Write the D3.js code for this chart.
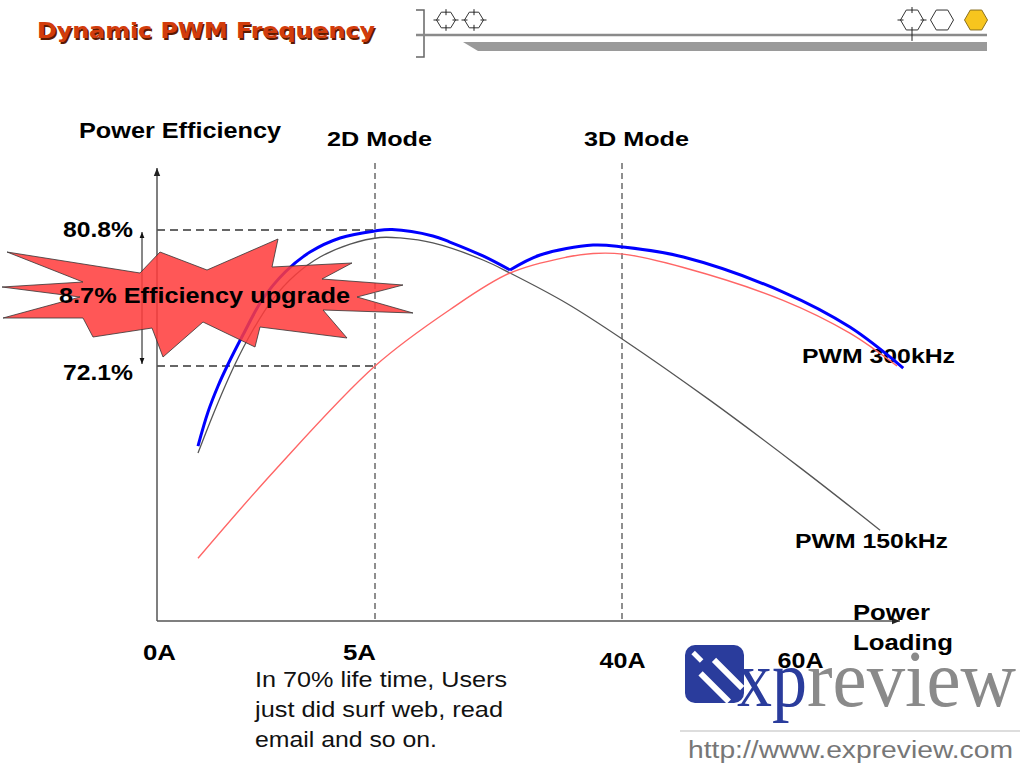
<!DOCTYPE html>
<html lang="en">
<head>
<meta charset="utf-8">
<style>
html, body {
    margin: 0;
    padding: 0;
    background: #fff;
}
svg { display: block; }
.b { font-family: "Liberation Sans", Arial, sans-serif; font-weight: bold; fill: #000; }
.r { font-family: "Liberation Sans", Arial, sans-serif; fill: #111; }
</style>
</head>
<body>
<div id="stage"></div>

<script src="https://cdn.jsdelivr.net/npm/d3@7/dist/d3.min.js"></script>
<script>

// x ticks (power loading, A) - the axis is not linear, one segment per tick gap
var loadTicks = [0, 5, 40, 60];
var loadLabels = ["0A", "5A", "40A", "60A"];

// marked efficiency levels
var effMarks = [80.8, 72.1];
var effLabels = ["80.8%", "72.1%"];

// mode lines
var modeLoads = [5, 40];
var modeLabels = ["2D Mode", "3D Mode"];

// series: [load A, efficiency %]
var pwm150 = [[0.94, 66.53], [1.33, 69.29], [1.77, 72.1], [2.2, 74.4], [2.64, 76.32], [3.17, 77.92],
    [3.74, 79.07], [4.43, 79.9], [5.71, 80.32], [8.54, 80.29], [13.2, 79.97], [20.3, 78.88],
    [24.13, 78.05], [32.2, 76.1], [40.1, 73.8], [49.9, 69.9], [60, 65.6], [69, 61.6]];
var pwm300 = [[0.94, 59.8], [2.71, 65.45], [5, 72.1], [15.6, 75.7], [24.13, 78.05], [32.2, 79.07],
    [35.9, 79.3], [40.1, 79.26], [46.9, 78.4], [58.1, 76.3], [65.6, 74.2], [70.9, 72.1]];
var dynamicPwm = [[0.94, 66.98], [1.17, 69.16], [1.4, 70.82], [1.61, 72.1], [1.97, 74.08], [2.41, 76.32],
    [2.94, 78.11], [3.51, 79.39], [4.2, 80.29], [5, 80.74], [7.41, 80.83], [13.2, 80.42], [15.6, 80.03],
    [20.3, 79.14], [24.13, 78.24], [28.4, 79.2], [35.9, 79.84], [40.1, 79.71], [46.9, 79.07],
    [58.1, 76.83], [65.6, 74.59], [71.6, 71.97]];

var svg = d3.select("#stage").append("svg")
    .attr("width", 1020)
    .attr("height", 765);

var x = d3.scaleLinear()
    .domain(loadTicks)
    .range([157, 375, 622, 800]);

var y = d3.scaleLinear()
    .domain([effMarks[1], effMarks[0]])
    .range([366, 230]);

var axisY = 621, axisTop = 168, axisRight = 900;

function fit(t, w) {
    return t.attr("textLength", w).attr("lengthAdjust", "spacingAndGlyphs");
}

var defs = svg.append("defs");
defs.append("marker")
    .attr("id", "arr")
    .attr("viewBox", "0 0 10 10")
    .attr("refX", 10).attr("refY", 5)
    .attr("markerWidth", 9).attr("markerHeight", 8)
    .attr("markerUnits", "userSpaceOnUse")
    .attr("orient", "auto-start-reverse")
    .append("path")
    .attr("d", "M0,1L10,5L0,9Z")
    .attr("fill", "#222");
defs.append("marker")
    .attr("id", "arrs")
    .attr("viewBox", "0 0 10 10")
    .attr("refX", 10).attr("refY", 5)
    .attr("markerWidth", 7).attr("markerHeight", 6)
    .attr("markerUnits", "userSpaceOnUse")
    .attr("orient", "auto-start-reverse")
    .append("path")
    .attr("d", "M0,1L10,5L0,9Z")
    .attr("fill", "#111");

// ---- header ----
var title = svg.append("g");
title.append("text")
    .attr("x", 38.5).attr("y", 39.5)
    .attr("font-family", "DejaVu Sans, Verdana, sans-serif")
    .attr("font-weight", "bold").attr("font-size", 21)
    .attr("fill", "#5c1a02")
    .call(fit, 338)
    .text("Dynamic PWM Frequency");
title.append("text")
    .attr("x", 37).attr("y", 38)
    .attr("font-family", "DejaVu Sans, Verdana, sans-serif")
    .attr("font-weight", "bold").attr("font-size", 21)
    .attr("fill", "#d23c0c")
    .call(fit, 338)
    .text("Dynamic PWM Frequency");

var deco = svg.append("g");
deco.append("path")
    .attr("d", "M416,10H424V57H416")
    .attr("fill", "none").attr("stroke", "#666").attr("stroke-width", 1.5);
deco.append("line")
    .attr("x1", 416).attr("x2", 987).attr("y1", 35).attr("y2", 35)
    .attr("stroke", "#8a8a8a").attr("stroke-width", 2.5);
deco.append("path")
    .attr("d", "M463,42H987V51H478Z")
    .attr("fill", "#9a9a9a");

function hexPath(cx, cy, r, k) {
    var pts = d3.range(6).map(function (i) {
        var a = i * Math.PI / 3;
        return [cx + r * Math.cos(a), cy + r * Math.sin(a) * k];
    });
    return "M" + pts.join("L") + "Z";
}
var hexes = [
    {cx: 446, cross: true, down: 3, fill: "#fff"},
    {cx: 474, cross: true, down: 3, fill: "#fff"},
    {cx: 912, cross: true, down: 11, fill: "#fff"},
    {cx: 942, cross: false, down: 0, fill: "#fff"},
    {cx: 976, cross: false, down: 0, fill: "#f7c51e"}
];
hexes.forEach(function (h) {
    var big = h.cx > 900;
    var r = big ? 11.5 : 9.5, k = big ? 1.0 : 0.95;
    deco.append("path")
        .attr("d", hexPath(h.cx, 20, r, k))
        .attr("fill", h.fill)
        .attr("stroke", h.fill === "#fff" ? "#333" : "#8a7020")
        .attr("stroke-width", 1);
    if (h.cross) {
        var ry = r * k * 0.866;
        deco.append("path")
            .attr("d", "M" + (h.cx - r - 3) + ",20H" + (h.cx - r + 3) +
                "M" + (h.cx + r - 3) + ",20H" + (h.cx + r + 3) +
                "M" + h.cx + "," + (20 - ry - 3) + "V" + (20 - ry + 3) +
                "M" + h.cx + "," + (20 + ry - 3) + "V" + (20 + ry + h.down))
            .attr("stroke", "#222").attr("stroke-width", 1);
    }
});

// ---- guides ----
svg.selectAll(".mode")
    .data(modeLoads)
    .enter().append("line")
    .attr("x1", function (d) { return x(d); })
    .attr("x2", function (d) { return x(d); })
    .attr("y1", 163).attr("y2", axisY)
    .attr("stroke", "#444").attr("stroke-width", 1.2)
    .attr("stroke-dasharray", "6,4");

svg.selectAll(".level")
    .data(effMarks)
    .enter().append("line")
    .attr("x1", x(0)).attr("x2", x(modeLoads[0]))
    .attr("y1", function (d) { return y(d); })
    .attr("y2", function (d) { return y(d); })
    .attr("stroke", "#666").attr("stroke-width", 2)
    .attr("stroke-dasharray", "8,5");

// axes with arrows
svg.append("line")
    .attr("x1", x(0)).attr("x2", x(0)).attr("y1", axisY).attr("y2", axisTop)
    .attr("stroke", "#555").attr("stroke-width", 1.5)
    .attr("marker-end", "url(#arr)");
svg.append("line")
    .attr("x1", x(0)).attr("x2", axisRight).attr("y1", axisY).attr("y2", axisY)
    .attr("stroke", "#555").attr("stroke-width", 1.5)
    .attr("marker-end", "url(#arr)");

// double arrow between the two levels
svg.append("line")
    .attr("x1", 142).attr("x2", 142)
    .attr("y1", y(effMarks[0]) + 2).attr("y2", y(effMarks[1]) - 2)
    .attr("stroke", "#111").attr("stroke-width", 1)
    .attr("marker-start", "url(#arrs)")
    .attr("marker-end", "url(#arrs)");

// x tick labels
var tickShift = [2, -16, 0, 0];
var tickBase = [660, 660, 668, 668];
var widths = [33, 33, 46, 46];
var xAxis = d3.axisBottom(x)
    .tickValues(loadTicks)
    .tickSize(0)
    .tickFormat(function (d, i) { return loadLabels[i]; });
var gx = svg.append("g").call(xAxis);
gx.select(".domain").remove();
gx.selectAll("text")
    .attr("class", "b")
    .attr("font-size", 22)
    .attr("dy", 0)
    .attr("y", function (d, i) { return tickBase[i]; })
    .attr("dx", function (d, i) { return tickShift[i]; })
    .each(function (d, i) { d3.select(this).call(fit, widths[i]); });

// y level labels
var yAxis = d3.axisLeft(y)
    .tickValues(effMarks)
    .tickSize(0)
    .tickPadding(24)
    .tickFormat(function (d, i) { return effLabels[i]; });
var gy = svg.append("g").attr("transform", "translate(" + x(0) + ",0)").call(yAxis);
gy.select(".domain").remove();
gy.selectAll("text")
    .attr("class", "b")
    .attr("font-size", 22)
    .attr("dy", function (d, i) { return [6, 13][i]; })
    .call(fit, 70);

var modeShift = [-48, -38];
svg.selectAll(".modeLbl")
    .data(modeLabels)
    .enter().append("text")
    .attr("class", "b")
    .attr("font-size", 21)
    .attr("x", function (d, i) { return x(modeLoads[i]) + modeShift[i]; })
    .attr("y", 146)
    .call(fit, 105)
    .text(function (d) { return d; });

svg.append("text").attr("class", "b").attr("font-size", 22)
    .attr("x", 79).attr("y", 138).call(fit, 202).text("Power Efficiency");
svg.append("text").attr("class", "b").attr("font-size", 22)
    .attr("x", 853).attr("y", 620).call(fit, 77).text("Power");
svg.append("text").attr("class", "b").attr("font-size", 22)
    .attr("x", 853).attr("y", 650).call(fit, 100).text("Loading");
svg.append("text").attr("class", "b").attr("font-size", 21)
    .attr("x", 802).attr("y", 363).call(fit, 153).text("PWM 300kHz");
svg.append("text").attr("class", "b").attr("font-size", 21)
    .attr("x", 795).attr("y", 548).call(fit, 153).text("PWM 150kHz");

// ---- curves ----
var line = d3.line()
    .x(function (d) { return x(d[0]); })
    .y(function (d) { return y(d[1]); })
    .curve(d3.curveCatmullRom.alpha(0.5));

svg.append("path").datum(pwm150)
    .attr("d", line)
    .attr("fill", "none").attr("stroke", "#555").attr("stroke-width", 1.3);
svg.append("path").datum(pwm300)
    .attr("d", line)
    .attr("fill", "none").attr("stroke", "#ff6666").attr("stroke-width", 1.4);

// dynamic curve switches frequency at its local minimum -> sharp corner
var cusp = 1;
for (var i = 1; i < dynamicPwm.length - 1; i++) {
    if (dynamicPwm[i][1] < dynamicPwm[i - 1][1] && dynamicPwm[i][1] < dynamicPwm[i + 1][1]) cusp = i;
}
[dynamicPwm.slice(0, cusp + 1), dynamicPwm.slice(cusp)].forEach(function (part) {
    svg.append("path").datum(part)
        .attr("d", line)
        .attr("fill", "none").attr("stroke", "#0000ff").attr("stroke-width", 3)
        .attr("stroke-linejoin", "round");
});

// ---- starburst callout ----
var burst = [[-198, -45], [-65, -24], [-45, -45], [2, -27], [73, -58], [67, -30], [147, -34],
    [117, -18], [198, -12], [152, 0], [208, 16], [118, 13], [142, 41], [55, 30], [50, 50],
    [-2, 25], [-42, 60], [-53, 31], [-112, 40], [-122, 21], [-202, 21], [-125, 0], [-203, -10], [-122, -15]];
var bcx = x(0) + 48, bcy = y((effMarks[0] + effMarks[1]) / 2) - 1;
svg.append("path")
    .attr("d", "M" + burst.map(function (p) { return [bcx + p[0], bcy + p[1]]; }).join("L") + "Z")
    .attr("fill", "#ff3b3b").attr("fill-opacity", 0.86)
    .attr("stroke", "#333").attr("stroke-width", 0.8);
svg.append("text").attr("class", "b").attr("font-size", 22)
    .attr("x", 59).attr("y", 303).call(fit, 291).text("8.7% Efficiency upgrade");

// ---- note ----
var note = ["In 70% life time, Users", "just did surf web, read", "email and so on."];
var noteW = [252, 248, 182];
svg.selectAll(".note")
    .data(note)
    .enter().append("text")
    .attr("class", "r")
    .attr("font-size", 22)
    .attr("x", 255)
    .attr("y", function (d, i) { return 687 + i * 30; })
    .each(function (d, i) { d3.select(this).call(fit, noteW[i]); })
    .text(function (d) { return d; });

// ---- logo ----
var logo = svg.append("g");
logo.append("rect")
    .attr("x", 685).attr("y", 645).attr("width", 59).attr("height", 58).attr("rx", 10)
    .attr("fill", "#2a3c9c");
var slots = logo.append("g").attr("transform", "translate(714,674) rotate(45)");
slots.append("rect").attr("x", -10).attr("y", -13).attr("width", 40).attr("height", 6).attr("fill", "#fff");
slots.append("rect").attr("x", -10).attr("y", 6).attr("width", 40).attr("height", 6).attr("fill", "#fff");
slots.append("rect").attr("x", -30).attr("y", -3).attr("width", 12).attr("height", 5).attr("fill", "#fff");
logo.append("text")
    .attr("x", 737).attr("y", 706)
    .attr("font-family", "Liberation Serif, Times New Roman, serif")
    .attr("font-size", 80).attr("fill", "#2a3c9c")
    .call(fit, 70).text("xp");
logo.append("text")
    .attr("x", 807).attr("y", 706)
    .attr("font-family", "Liberation Serif, Times New Roman, serif")
    .attr("font-size", 80).attr("fill", "#8a8a8a")
    .call(fit, 209).text("review");
logo.append("line")
    .attr("x1", 680).attr("x2", 1020).attr("y1", 731).attr("y2", 731)
    .attr("stroke", "#bbb").attr("stroke-width", 1);
logo.append("text")
    .attr("x", 688).attr("y", 758)
    .attr("font-family", "Liberation Sans, Arial, sans-serif")
    .attr("font-size", 23).attr("fill", "#777")
    .call(fit, 325).text("http://www.expreview.com");

// labels sitting over the logo
gx.raise();
svg.selectAll("text.b").filter(function () { return d3.select(this).text() === "Loading"; }).raise();

</script>
</body>
</html>
